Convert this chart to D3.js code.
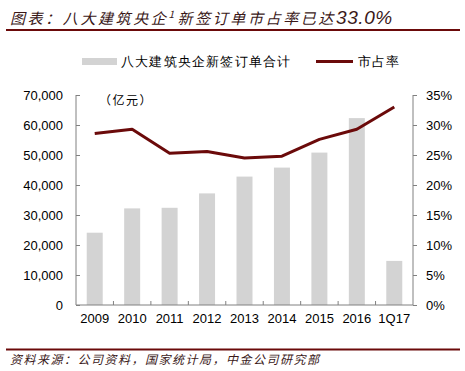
<!DOCTYPE html>
<html>
<head>
<meta charset="utf-8">
<script src="https://cdn.jsdelivr.net/npm/d3@7/dist/d3.min.js"></script>
<style>
  body { margin: 0; background: #fff; }
  svg text { font-family: "Liberation Sans", Arial, sans-serif; }
  .cjk { font-family: "Noto Sans CJK SC", "Liberation Sans", sans-serif; }
</style>
</head>
<body>
<div id="chart"></div>
<script>
// 数据
let categories = ['2009', '2010', '2011', '2012', '2013', '2014', '2015', '2016', '1Q17'];
let orders = [24100, 32200, 32400, 37200, 42800, 45800, 50800, 62300, 14700];   // 亿元
let share = [28.6, 29.3, 25.3, 25.6, 24.5, 24.8, 27.6, 29.3, 33.0];            // %
let leftTicks = [0, 10000, 20000, 30000, 40000, 50000, 60000, 70000];
let rightTicks = [0, 5, 10, 15, 20, 25, 30, 35];

let width = 465, height = 371;
let plot = {left: 76, right: 413, top: 95, bottom: 305};
let dark = '#6b0a0a';

let svg = d3.select('#chart').append('svg')
    .attr('width', width)
    .attr('height', height);

// 标题
let title = svg.append('text')
    .attr('class', 'cjk')
    .attr('x', 10)
    .attr('y', 24)
    .style('font-size', '15px')
    .style('font-style', 'italic')
    .style('letter-spacing', '2.6px')
    .style('fill', '#3a1818');
title.append('tspan').text('图表：八大建筑央企');
title.append('tspan')
    .attr('dy', -6)
    .style('font-size', '10px')
    .text('1');
title.append('tspan')
    .attr('dy', 6)
    .attr('dx', 1)
    .text('新签订单市占率已达');
title.append('tspan')
    .style('font-family', '"Liberation Sans", Arial, sans-serif')
    .style('font-size', '19px')
    .style('letter-spacing', '0.6px')
    .text('33.0%');

svg.append('line')
    .attr('x1', 6).attr('x2', 460)
    .attr('y1', 30).attr('y2', 30)
    .style('stroke', dark)
    .style('stroke-width', 2);

// 比例尺
let x = d3.scaleBand()
    .domain(categories)
    .range([plot.left, plot.right]);
let yL = d3.scaleLinear().domain([0, 70000]).range([plot.bottom, plot.top]);
let yR = d3.scaleLinear().domain([0, 35]).range([plot.bottom, plot.top]);

// 柱子
let barW = 16;
svg.append('g').selectAll('rect')
    .data(orders)
    .enter()
    .append('rect')
    .attr('x', (d, i) => x(categories[i]) + x.bandwidth() / 2 - barW / 2)
    .attr('y', d => yL(d))
    .attr('width', barW)
    .attr('height', d => plot.bottom - yL(d))
    .style('fill', '#d3d3d3');

// 坐标轴
let axisColor = '#808080';
let leftAxis = svg.append('g')
    .attr('transform', `translate(${plot.left},0)`)
    .call(d3.axisLeft(yL).tickValues(leftTicks).tickSize(-4).tickPadding(13)
        .tickFormat(d3.format(',')));
let rightAxis = svg.append('g')
    .attr('transform', `translate(${plot.right},0)`)
    .call(d3.axisRight(yR).tickValues(rightTicks).tickSize(4).tickPadding(9)
        .tickFormat(d => d + '%'));
let bottomAxis = svg.append('g')
    .attr('transform', `translate(0,${plot.bottom})`)
    .call(d3.axisBottom(x).tickSize(0).tickPadding(9));

[leftAxis, rightAxis, bottomAxis].forEach(g => {
    g.select('.domain').style('stroke', axisColor);
    g.selectAll('.tick line').style('stroke', axisColor);
    g.selectAll('.tick text')
        .style('font-size', '13px')
        .style('fill', '#000')
        .style('font-family', '"Liberation Sans", Arial, sans-serif');
});
leftAxis.select('.domain').attr('d', `M0,${plot.top}V${plot.bottom}`);
rightAxis.select('.domain').attr('d', `M0,${plot.top}V${plot.bottom}`);
bottomAxis.select('.domain').attr('d', `M${plot.left},0H${plot.right}`);

// 类别间的小刻度
svg.append('g').selectAll('line')
    .data(categories.slice(1))
    .enter()
    .append('line')
    .attr('x1', d => x(d)).attr('x2', d => x(d))
    .attr('y1', plot.bottom).attr('y2', plot.bottom - 4)
    .style('stroke', axisColor);

// 折线
let line = d3.line()
    .x((d, i) => x(categories[i]) + x.bandwidth() / 2)
    .y(d => yR(d));
svg.append('path')
    .datum(share)
    .attr('d', line)
    .style('fill', 'none')
    .style('stroke', dark)
    .style('stroke-width', 3)
    .style('stroke-linejoin', 'round');

// 单位
svg.append('text')
    .attr('class', 'cjk')
    .attr('x', 99)
    .attr('y', 105)
    .style('font-size', '12px')
    .style('letter-spacing', '1.5px')
    .text('（亿元）');

// 图例
let legend = svg.append('g').attr('class', 'cjk');
legend.append('rect')
    .attr('x', 82).attr('y', 58).attr('width', 35).attr('height', 7)
    .style('fill', '#d3d3d3');
legend.append('text')
    .attr('x', 121).attr('y', 66)
    .style('font-size', '13px')
    .style('letter-spacing', '1.2px')
    .text('八大建筑央企新签订单合计');
legend.append('line')
    .attr('x1', 316).attr('x2', 353).attr('y1', 61.5).attr('y2', 61.5)
    .style('stroke', dark)
    .style('stroke-width', 3);
legend.append('text')
    .attr('x', 358).attr('y', 66)
    .style('font-size', '13px')
    .style('letter-spacing', '1.2px')
    .text('市占率');

// 来源
svg.append('line')
    .attr('x1', 6).attr('x2', 460)
    .attr('y1', 349.5).attr('y2', 349.5)
    .style('stroke', dark)
    .style('stroke-width', 2);
svg.append('text')
    .attr('class', 'cjk')
    .attr('x', 10)
    .attr('y', 364)
    .style('font-size', '12px')
    .style('font-style', 'italic')
    .style('letter-spacing', '1.5px')
    .style('fill', '#3a1818')
    .text('资料来源：公司资料，国家统计局，中金公司研究部');
</script>
</body>
</html>
